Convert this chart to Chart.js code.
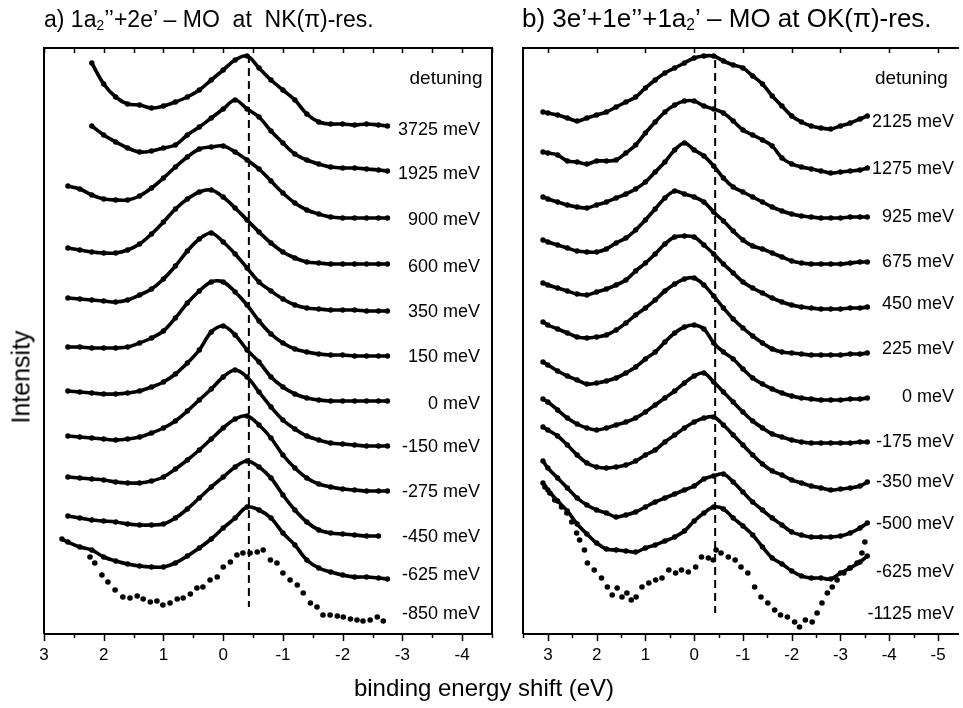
<!DOCTYPE html>
<html>
<head>
<meta charset="utf-8">
<script src="https://cdn.jsdelivr.net/npm/chart.js@4.4.1/dist/chart.umd.min.js"></script>
<style>
  html, body { margin: 0; padding: 0; background: #fff; overflow: hidden; }
  #wrap { position: relative; width: 963px; height: 708px; font-family: 'Liberation Sans', Arial, sans-serif; color: #000; }
  canvas { position: absolute; top: 0; }
  .title { position: absolute; line-height: 1; white-space: pre; }
  .title sub { font-size: 0.6em; vertical-align: -0.22em; line-height: 0; }
  #titleA { left: 44px; top: 8px; font-size: 23px; }
  #titleB { left: 522px; top: 5px; font-size: 26px; }
  #ylab { position: absolute; left: 21px; top: 377px; font-size: 25px; transform: translate(-50%, -50%) rotate(-90deg); white-space: nowrap; }
  #xlab { position: absolute; left: 484px; top: 688px; font-size: 24px; transform: translate(-50%, -50%); white-space: nowrap; }
</style>
</head>
<body>
<div id="wrap">
  <canvas id="chartA" width="510" height="708" style="left:0;width:510px;height:708px"></canvas>
  <canvas id="chartB" width="453" height="708" style="left:510px;width:453px;height:708px"></canvas>
  <div class="title" id="titleA">a) 1a<sub>2</sub>’’+2e’ – MO  at  NK(π)-res.</div>
  <div class="title" id="titleB">b) 3e’+1e’’+1a<sub>2</sub>’ – MO at OK(π)-res.</div>
  <div id="ylab">Intensity</div>
  <div id="xlab">binding energy shift (eV)</div>
</div>
<script>
// panel a: 1a2''+2e' MO at the N K(pi) resonance, values in a.u. (stacked)
const energyA = [2.7, 2.6, 2.4, 2.2, 2.0, 1.8, 1.6, 1.4, 1.2, 1.0, 0.8, 0.6, 0.4, 0.2, 0.0,
  -0.2, -0.4, -0.6, -0.8, -1.0, -1.2, -1.4, -1.6, -1.8, -2.0, -2.2, -2.4, -2.6, -2.75];

const a3725 = [null, null, null, 57.1, 55.0, 53.7, 53.0, 52.9, 52.6, 52.8, 53.2, 53.7, 54.4, 55.4, 56.4, 57.4, 57.8, 56.6, 55.4, 54.4, 53.4, 52.0, 51.2, 51.0, 51.0, 50.9, 51.0, 50.9, 50.8];
const a1925 = [null, null, null, 50.8, 49.9, 49.2, 48.6, 48.2, 48.3, 48.6, 48.9, 49.9, 50.7, 51.6, 52.5, 53.4, 52.5, 51.7, 50.3, 49.1, 48.0, 47.4, 47.0, 46.7, 46.6, 46.6, 46.5, 46.4, 46.3];
const a900 = [null, 44.8, 44.5, 43.9, 43.5, 43.4, 43.4, 43.8, 44.6, 45.6, 46.7, 47.7, 48.5, 48.7, 48.8, 48.2, 47.4, 46.5, 45.3, 44.1, 43.1, 42.4, 42.0, 41.7, 41.6, 41.6, 41.6, 41.6, 41.6];
const a600 = [null, 38.6, 38.4, 38.2, 38.1, 38.1, 38.4, 39.0, 40.0, 41.2, 42.5, 43.5, 44.2, 44.4, 43.7, 42.6, 41.4, 40.2, 39.1, 38.2, 37.6, 37.2, 37.1, 37.0, 37.0, 37.0, 37.0, 37.0, 37.0];
const a350 = [null, 33.6, 33.5, 33.4, 33.3, 33.2, 33.4, 33.9, 34.5, 35.5, 36.8, 38.3, 39.5, 40.1, 39.2, 38.0, 36.6, 35.2, 34.3, 33.5, 32.9, 32.6, 32.5, 32.4, 32.4, 32.4, 32.3, 32.3, 32.3];
const a150 = [null, 28.7, 28.7, 28.6, 28.6, 28.6, 28.7, 29.1, 29.6, 30.3, 31.6, 33.1, 34.3, 35.2, 35.2, 34.2, 32.9, 31.3, 30.0, 29.1, 28.5, 28.2, 28.0, 27.9, 27.9, 27.8, 27.8, 27.8, 27.8];
const a0 = [null, 24.3, 24.2, 24.1, 24.0, 24.0, 24.1, 24.3, 24.7, 25.2, 26.0, 27.1, 28.4, 30.2, 30.8, 29.9, 28.4, 27.2, 25.7, 24.7, 24.0, 23.6, 23.4, 23.3, 23.3, 23.3, 23.3, 23.3, 23.3];
const aM150 = [null, 19.8, 19.7, 19.6, 19.5, 19.4, 19.5, 19.7, 20.1, 20.6, 21.3, 22.3, 23.4, 24.5, 25.7, 26.4, 25.7, 24.2, 22.7, 21.4, 20.5, 19.8, 19.4, 19.1, 19.0, 18.9, 18.8, 18.8, 18.8];
const aM275 = [null, 15.7, 15.6, 15.5, 15.4, 15.2, 15.1, 15.1, 15.3, 15.7, 16.5, 17.4, 18.4, 19.5, 20.6, 21.5, 21.8, 20.9, 19.6, 17.9, 16.6, 15.6, 15.0, 14.7, 14.5, 14.4, 14.3, 14.3, 14.3];
const aM450 = [null, 11.8, 11.6, 11.4, 11.3, 11.2, 11.0, 10.9, 10.9, 11.0, 11.6, 12.5, 13.6, 14.7, 15.7, 16.7, 17.3, 16.7, 15.6, 13.9, 12.4, 11.2, 10.4, 10.1, 10.0, 9.9, 9.8, 9.8, null];
const aM625 = [9.5, 9.2, 8.7, 8.4, 7.7, 7.3, 7.0, 6.8, 6.7, 6.7, 7.1, 7.8, 8.6, 9.5, 10.6, 11.6, 12.7, 12.4, 11.6, 10.1, 8.9, 7.4, 6.6, 6.2, 5.9, 5.7, 5.7, 5.6, 5.5];
// -850 meV is plotted as separate points
const energyA850 = [2.23, 2.15, 2.03, 1.93, 1.81, 1.68, 1.56, 1.44, 1.34, 1.22, 1.11, 1.01, 0.89, 0.77, 0.67,
  0.55, 0.44, 0.34, 0.22, 0.10, 0.00, -0.12, -0.23, -0.33, -0.45, -0.57, -0.67, -0.79, -0.90, -1.00,
  -1.12, -1.24, -1.34, -1.46, -1.57, -1.67, -1.79, -1.91, -2.01, -2.13, -2.24, -2.34, -2.46, -2.58, -2.68];
const aM850 = [7.7, 7.1, 5.9, 5.2, 4.4, 3.7, 3.6, 3.8, 3.5, 3.2, 3.3, 2.9, 3.1, 3.5, 3.6,
  4.0, 4.6, 4.7, 5.4, 5.7, 6.7, 7.2, 7.9, 8.1, 8.1, 8.2, 8.4, 7.4, 7.1, 6.1,
  5.4, 4.9, 4.1, 3.1, 2.7, 1.9, 1.9, 1.8, 1.7, 1.5, 1.4, 1.3, 1.4, 1.7, 1.3];

const detuningA = ['3725 meV', '1925 meV', '900 meV', '600 meV', '350 meV', '150 meV', '0 meV',
  '-150 meV', '-275 meV', '-450 meV', '-625 meV', '-850 meV'];
const levelsA = [50.6, 46.2, 41.6, 36.9, 32.4, 27.9, 23.2, 18.9, 14.4, 9.9, 6.1, 2.2];
const ticksA = [3, 2, 1, 0, -1, -2, -3, -4];

// panel b: 3e'+1e''+1a2' MO at the O K(pi) resonance
const energyB = [3.1, 3.0, 2.8, 2.6, 2.4, 2.2, 2.0, 1.8, 1.6, 1.4, 1.2, 1.0, 0.8, 0.6, 0.4, 0.2, 0.0,
  -0.2, -0.4, -0.6, -0.8, -1.0, -1.2, -1.4, -1.6, -1.8, -2.0, -2.2, -2.4, -2.6, -2.8, -3.0, -3.2, -3.4, -3.55];

const b2125 = [52.2, 52.1, 51.9, 51.6, 51.3, 51.6, 51.9, 52.2, 52.7, 53.2, 53.7, 54.6, 55.4, 56.1, 56.6, 57.1, 57.6, 57.8, 57.8, 57.3, 56.9, 56.6, 55.8, 55.0, 53.8, 52.8, 51.8, 51.2, 50.8, 50.6, 50.5, 50.8, 51.1, 51.5, 51.8];
const b1275 = [48.2, 48.1, 47.9, 47.3, 47.2, 47.0, 47.3, 47.3, 47.4, 48.1, 48.9, 50.1, 51.2, 52.2, 52.9, 53.3, 53.3, 52.8, 52.5, 52.1, 51.3, 50.4, 49.9, 49.4, 48.8, 47.6, 47.0, 46.7, 46.5, 46.3, 46.1, 46.2, 46.3, 46.4, 46.6];
const b925 = [43.7, 43.5, 43.2, 42.9, 42.7, 42.6, 42.9, 43.2, 43.6, 44.0, 44.5, 45.2, 46.2, 47.2, 48.4, 49.1, 48.4, 47.8, 46.8, 45.6, 44.7, 44.2, 43.7, 43.2, 42.7, 42.3, 42.0, 41.8, 41.7, 41.6, 41.6, 41.6, 41.7, 41.7, 41.7];
const b675 = [39.4, 39.2, 38.9, 38.6, 38.3, 38.2, 38.2, 38.5, 39.1, 39.6, 40.4, 41.4, 42.5, 43.6, 44.3, 44.0, 43.7, 43.2, 42.2, 41.3, 40.3, 39.4, 38.8, 38.5, 38.1, 37.7, 37.3, 37.1, 37.0, 37.0, 37.0, 37.0, 37.1, 37.2, 37.2];
const b450 = [35.1, 34.9, 34.6, 34.3, 34.0, 33.9, 34.2, 34.5, 34.9, 35.4, 36.3, 37.1, 38.0, 39.0, 39.7, 39.8, 39.7, 38.9, 38.0, 37.0, 36.1, 35.2, 34.6, 34.1, 33.6, 33.2, 32.9, 32.7, 32.6, 32.5, 32.5, 32.5, 32.6, 32.6, 32.7];
const b225 = [31.2, 30.9, 30.5, 30.1, 29.7, 29.6, 29.7, 29.9, 30.4, 31.1, 31.9, 32.6, 33.4, 34.3, 35.0, 35.5, 35.6, 34.9, 33.8, 32.6, 31.5, 30.6, 29.8, 29.1, 28.5, 28.2, 28.1, 28.0, 27.9, 27.9, 27.9, 27.9, 28.0, 28.0, 28.1];
const b0 = [27.2, 26.9, 26.3, 25.8, 25.4, 25.0, 25.1, 25.3, 25.6, 26.1, 26.7, 27.5, 28.2, 29.2, 30.1, 30.7, 30.9, 30.5, 29.1, 28.2, 27.5, 26.5, 25.6, 25.0, 24.5, 24.1, 23.8, 23.6, 23.5, 23.4, 23.4, 23.4, 23.5, 23.5, 23.6];
const bM175 = [23.5, 23.2, 22.4, 21.6, 21.0, 20.6, 20.4, 20.6, 20.9, 21.2, 21.6, 22.2, 22.9, 23.6, 24.3, 25.1, 25.8, 26.1, 25.2, 24.2, 23.2, 22.2, 21.3, 20.6, 20.0, 19.7, 19.4, 19.2, 19.1, 19.1, 19.1, 19.1, 19.1, 19.2, 19.2];
const bM350 = [20.7, 20.4, 19.8, 18.9, 17.9, 17.1, 16.7, 16.6, 16.7, 16.9, 17.3, 17.9, 18.4, 19.2, 19.9, 20.6, 21.2, 21.6, 21.7, 20.9, 19.9, 18.9, 17.9, 17.0, 16.3, 15.9, 15.4, 15.1, 14.8, 14.6, 14.4, 14.5, 14.6, 14.8, 15.2];
const bM500 = [17.3, 16.6, 15.6, 14.6, 13.6, 12.9, 12.4, 12.1, 11.7, 11.9, 12.2, 12.7, 13.2, 13.6, 14.0, 14.4, 14.8, 15.5, 15.8, 16.0, 15.2, 14.2, 13.2, 12.4, 11.6, 10.9, 10.2, 9.9, 9.7, 9.7, 9.7, 9.8, 10.1, 10.6, 11.1];
const bM625 = [15.1, 14.4, 13.3, 12.3, 11.0, 10.0, 9.1, 8.5, 8.4, 8.3, 8.2, 8.6, 8.9, 9.3, 9.7, 10.3, 11.3, 12.1, 12.7, 12.5, 11.6, 10.8, 9.9, 8.7, 7.6, 7.0, 6.3, 5.8, 5.6, 5.6, 5.5, 6.1, 6.6, 7.2, 7.8];
// -1125 meV is plotted as separate points
const energyB1125 = [3.06, 2.96, 2.86, 2.72, 2.61, 2.51, 2.41, 2.35, 2.25, 2.19, 2.05, 1.90, 1.78, 1.68, 1.58,
  1.48, 1.38, 1.29, 1.19, 1.07, 0.93, 0.79, 0.66, 0.52, 0.38, 0.26, 0.12, -0.03, -0.15, -0.29,
  -0.39, -0.45, -0.55, -0.70, -0.84, -0.96, -1.10, -1.24, -1.37, -1.51, -1.65, -1.77, -1.91, -2.06, -2.16,
  -2.28, -2.42, -2.52, -2.62, -2.73, -2.83, -2.93, -3.07, -3.19, -3.34, -3.44, -3.50];
const bM1125 = [14.7, 14.1, 13.4, 12.7, 12.1, 11.2, 10.1, 9.4, 8.4, 7.1, 6.4, 5.6, 4.7, 3.9, 4.6,
  3.7, 4.1, 3.4, 3.7, 4.7, 5.1, 5.4, 5.6, 6.4, 6.1, 6.4, 6.2, 6.7, 7.7, 7.6,
  7.4, 8.4, 8.1, 7.7, 7.4, 6.7, 6.1, 4.7, 3.7, 3.1, 2.4, 1.9, 1.7, 1.2, 0.7,
  1.4, 1.2, 2.1, 3.1, 4.1, 4.7, 5.4, 6.1, 6.6, 7.1, 8.1, 9.2];

const detuningB = ['2125 meV', '1275 meV', '925 meV', '675 meV', '450 meV', '225 meV', '0 meV',
  '-175 meV', '-350 meV', '-500 meV', '-625 meV', '-1125 meV'];
const levelsB = [51.4, 46.7, 41.9, 37.4, 33.2, 28.7, 23.9, 19.4, 15.4, 11.2, 6.4, 2.2];
const ticksB = [3, 2, 1, 0, -1, -2, -3, -4, -5];

// position of the vertical reference line (eV)
const refShift = -0.43;

const FONT = '"Liberation Sans", Arial, sans-serif';

function toPoints(xs, ys) {
    return xs.map((x, i) => ({ x: x, y: ys[i] })).filter(p => p.y !== null);
}

// measured points joined by a thick line, so the dense traces read as beaded
function curve(xs, ys) {
    return {
        data: toPoints(xs, ys),
        showLine: true,
        borderColor: '#000',
        borderWidth: 3.6,
        pointRadius: 2.7,
        pointBackgroundColor: '#000',
        pointBorderWidth: 0,
        tension: 0.35,
        borderCapStyle: 'round',
        borderJoinStyle: 'round'
    };
}

function dots(xs, ys) {
    return {
        data: toPoints(xs, ys),
        showLine: false,
        pointRadius: 2.8,
        pointBackgroundColor: '#000',
        pointBorderWidth: 0
    };
}

function refLine(top, bottom) {
    return {
        data: [{ x: refShift, y: top }, { x: refShift, y: bottom }],
        showLine: true,
        borderColor: '#000',
        borderWidth: 2,
        borderDash: [8, 5],
        pointRadius: 0
    };
}

// frame, ticks, tick labels and curve labels
function panelDecor(p) {
    return {
        id: 'panelDecor',
        afterDatasetsDraw(chart) {
            const { ctx, chartArea: a, scales: { x, y } } = chart;
            ctx.save();
            ctx.strokeStyle = '#000';
            ctx.fillStyle = '#000';
            ctx.lineWidth = 2;
            ctx.beginPath();
            ctx.moveTo(a.left, a.bottom);
            ctx.lineTo(a.left, a.top);
            ctx.lineTo(a.right, a.top);
            if (p.rightBorder) ctx.lineTo(a.right, a.bottom);
            ctx.moveTo(a.left, a.bottom);
            ctx.lineTo(a.right, a.bottom);
            ctx.stroke();

            ctx.lineWidth = 1.5;
            ctx.beginPath();
            for (let v = Math.ceil(x.min * 2) / 2; v <= x.max + 1e-9; v += 0.5) {
                const px = Math.round(x.getPixelForValue(v)) + 0.5;
                const major = Math.abs(v - Math.round(v)) < 1e-9;
                ctx.moveTo(px, a.bottom);
                ctx.lineTo(px, a.bottom + (major ? 7 : 4));
                if (major || p.topHalfTicks) {
                    ctx.moveTo(px, a.top);
                    ctx.lineTo(px, a.top + 5);
                }
            }
            ctx.stroke();

            ctx.font = '17px ' + FONT;
            ctx.textAlign = 'center';
            ctx.textBaseline = 'alphabetic';
            p.ticks.forEach(t => {
                ctx.fillText(String(t), x.getPixelForValue(t), a.bottom + 26);
            });

            ctx.textAlign = 'right';
            ctx.font = '19px ' + FONT;
            ctx.fillText('detuning', x.getPixelForValue(p.headX), y.getPixelForValue(55.7) + 7);
            ctx.font = '18px ' + FONT;
            p.labels.forEach((txt, i) => {
                ctx.fillText(txt, x.getPixelForValue(p.labelX), y.getPixelForValue(p.levels[i]) + 6.5);
            });
            ctx.restore();
        }
    };
}

function makePanel(id, datasets, xr, pad, decor) {
    return new Chart(document.getElementById(id), {
        type: 'scatter',
        data: { datasets: datasets },
        options: {
            responsive: false,
            animation: false,
            devicePixelRatio: 1,
            layout: { padding: pad },
            plugins: { legend: { display: false }, tooltip: { enabled: false } },
            scales: {
                x: { type: 'linear', min: xr[0], max: xr[1], reverse: true, display: false },
                y: { type: 'linear', min: 0, max: 58.6, display: false }
            }
        },
        plugins: [panelDecor(decor)]
    });
}

makePanel('chartA', [
    curve(energyA, a3725), curve(energyA, a1925), curve(energyA, a900), curve(energyA, a600),
    curve(energyA, a350), curve(energyA, a150), curve(energyA, a0), curve(energyA, aM150),
    curve(energyA, aM275), curve(energyA, aM450), curve(energyA, aM625),
    dots(energyA850, aM850),
    refLine(57.9, 2.7)
], [-4.5, 3], { left: 44, top: 48, right: 18, bottom: 74 }, {
    ticks: ticksA, labels: detuningA, levels: levelsA,
    labelX: -4.30, headX: -4.34, rightBorder: true, topHalfTicks: true
});

makePanel('chartB', [
    curve(energyB, b2125), curve(energyB, b1275), curve(energyB, b925), curve(energyB, b675),
    curve(energyB, b450), curve(energyB, b225), curve(energyB, b0), curve(energyB, bM175),
    curve(energyB, bM350), curve(energyB, bM500), curve(energyB, bM625),
    dots(energyB1125, bM1125),
    refLine(57.4, 2.1)
], [-5.43, 3.51], { left: 13, top: 48, right: 0, bottom: 74 }, {
    ticks: ticksB, labels: detuningB, levels: levelsB,
    labelX: -5.33, headX: -5.20, rightBorder: false, topHalfTicks: false
});
</script>
</body>
</html>
